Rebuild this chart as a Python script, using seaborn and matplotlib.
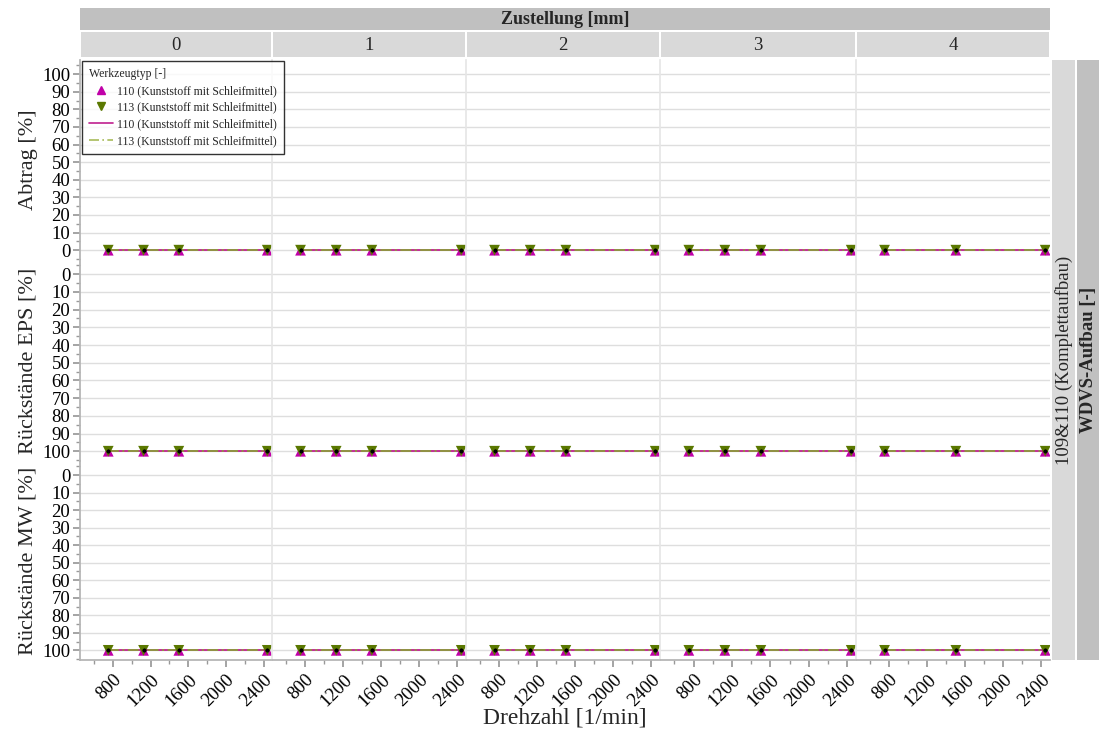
import pandas as pd
import matplotlib.pyplot as plt
import seaborn as sns
from matplotlib.patches import Rectangle
from matplotlib.lines import Line2D
from matplotlib.ticker import MultipleLocator

# Daten
zustellung = [0, 1, 2, 3, 4]
drehzahl = {
    0: [750, 1125, 1500, 2440],
    1: [750, 1125, 1500, 2440],
    2: [750, 1125, 1500, 2440],
    3: [750, 1125, 1500, 2440],
    4: [750, 1500, 2440],
}
werkzeug = ["110 (Kunststoff mit Schleifmittel)", "113 (Kunststoff mit Schleifmittel)"]
abtrag = {w: {z: [0] * len(drehzahl[z]) for z in zustellung} for w in werkzeug}
rueck_eps = {w: {z: [100] * len(drehzahl[z]) for z in zustellung} for w in werkzeug}
rueck_mw = {w: {z: [100] * len(drehzahl[z]) for z in zustellung} for w in werkzeug}

metriken = ["Abtrag [%]", "Rückstände EPS [%]", "Rückstände MW [%]"]
y_ticks = list(range(0, 101, 10))
x_ticks = [800, 1200, 1600, 2000, 2400]

rows = []
for w in werkzeug:
    for z in zustellung:
        for i, d in enumerate(drehzahl[z]):
            rows.append({"Werkzeugtyp": w, "Zustellung": z, "Drehzahl": d,
                         metriken[0]: abtrag[w][z][i],
                         metriken[1]: rueck_eps[w][z][i],
                         metriken[2]: rueck_mw[w][z][i]})
df = pd.DataFrame(rows)

sns.set_theme(style="white")
plt.rcParams["font.family"] = ["Liberation Serif", "DejaVu Serif"]

punkt_farben = {werkzeug[0]: "#c000a8", werkzeug[1]: "#5a7800"}
linien_farben = {werkzeug[0]: "#c0208f", werkzeug[1]: "#8c9c3c"}
marker = {werkzeug[0]: "^", werkzeug[1]: "v"}
striche = {werkzeug[0]: "", werkzeug[1]: (6, 2, 1, 2)}

W, H = 1099, 733
fig = plt.figure(figsize=(W / 100, H / 100), dpi=100)

def px(x0, y0, x1, y1):
    return [x0 / W, 1 - y1 / H, (x1 - x0) / W, (y1 - y0) / H]

spalten = [(80, 272), (272, 466), (466, 660), (660, 856), (856, 1050)]
zeilen = [(60, 259), (260, 461), (461, 660)]

for r, (y0, y1) in enumerate(zeilen):
    for c, (x0, x1) in enumerate(spalten):
        ax = fig.add_axes(px(x0, y0, x1, y1))
        ax.patch.set_alpha(0)
        sub = df[df["Zustellung"] == zustellung[c]]
        sns.lineplot(data=sub, x="Drehzahl", y=metriken[r], hue="Werkzeugtyp",
                     style="Werkzeugtyp", palette=linien_farben, dashes=striche,
                     linewidth=1.3, legend=False, ax=ax, zorder=2)
        sns.scatterplot(data=sub, x="Drehzahl", y=metriken[r], hue="Werkzeugtyp",
                        style="Werkzeugtyp", palette=punkt_farben, markers=marker,
                        s=60, linewidth=0, legend=False, ax=ax, zorder=3)
        ax.scatter(sub["Drehzahl"], sub[metriken[r]], s=3, color="black", zorder=4)

        ax.set_xlim(450, 2490)
        if r == 0:
            ax.set_ylim(-5, 108)
        else:
            ax.set_ylim(105.5, -8)
        ax.set_yticks(y_ticks)
        ax.yaxis.set_minor_locator(MultipleLocator(5))
        ax.set_xticks(x_ticks)
        ax.xaxis.set_minor_locator(MultipleLocator(200))
        ax.grid(axis="y", which="major", color="#dedede", linewidth=1)
        ax.spines["top"].set_visible(False)
        ax.spines["right"].set_visible(False)
        ax.spines["bottom"].set_visible(r == 2)
        ax.spines["bottom"].set_color("#b4b4b4")
        ax.spines["left"].set_color("#b4b4b4" if c == 0 else "#e6e6e6")
        ax.tick_params(which="both", colors="#999999", labelcolor="black", labelsize=13.5)
        ax.tick_params(which="major", length=5)
        ax.tick_params(which="minor", length=3)
        ax.tick_params(axis="y", which="both", left=(c == 0), labelleft=(c == 0), pad=2)
        ax.tick_params(axis="x", which="both", bottom=(r == 2), labelbottom=(r == 2), pad=3)
        if r == 2:
            for lab in ax.get_xticklabels():
                lab.set_rotation(45)
                lab.set_ha("right")
                lab.set_rotation_mode("anchor")
        ax.set_xlabel("")
        if c == 0:
            ax.set_ylabel(metriken[r], fontsize=16, labelpad=3)
        else:
            ax.set_ylabel("")

# Streifen oben
fig.patches.append(Rectangle((80 / W, 1 - 30 / H), 970 / W, 22 / H, transform=fig.transFigure,
                             facecolor="#c0c0c0", edgecolor="none"))
fig.text(565 / W, 1 - 19 / H, "Zustellung [mm]", ha="center", va="center",
         fontsize=13, fontweight="bold")
for c, (x0, x1) in enumerate(spalten):
    fig.patches.append(Rectangle(((x0 + 1) / W, 1 - 57 / H), (x1 - x0 - 2) / W, 25 / H,
                                 transform=fig.transFigure, facecolor="#d9d9d9",
                                 edgecolor="none"))
    fig.text((x0 + x1) / 2 / W, 1 - 45 / H, str(zustellung[c]), ha="center",
             va="center", fontsize=13.5)

# Streifen rechts
fig.patches.append(Rectangle((1052 / W, 1 - 660 / H), 23 / W, 600 / H, transform=fig.transFigure,
                             facecolor="#d9d9d9", edgecolor="none"))
fig.text(1064 / W, 1 - 360 / H, "109&110 (Komplettaufbau)", ha="center", va="center",
         rotation=90, fontsize=13.5)
fig.patches.append(Rectangle((1077 / W, 1 - 660 / H), 22 / W, 600 / H, transform=fig.transFigure,
                             facecolor="#c0c0c0", edgecolor="none"))
fig.text(1088 / W, 1 - 360 / H, "WDVS-Aufbau [-]", ha="center", va="center",
         rotation=90, fontsize=13.5, fontweight="bold")

fig.text(565 / W, 1 - 718 / H, "Drehzahl [1/min]", ha="center", va="center", fontsize=17)

# Legende
handles = [
    Line2D([], [], linestyle="none", marker="^", color=punkt_farben[werkzeug[0]], markersize=6),
    Line2D([], [], linestyle="none", marker="v", color=punkt_farben[werkzeug[1]], markersize=6),
    Line2D([], [], color=linien_farben[werkzeug[0]], linewidth=1.2),
    Line2D([], [], color="#a8bb5a", linewidth=1.2, dashes=(6, 2, 1, 2)),
]
leg = fig.legend(handles, werkzeug + werkzeug, title="Werkzeugtyp [-]", loc="upper left",
                 bbox_to_anchor=(82 / W, 1 - 61 / H), borderaxespad=0, fontsize=8.5,
                 title_fontsize=8.5, frameon=True, fancybox=False, edgecolor="black",
                 handlelength=2, handletextpad=0.4, labelspacing=0.4, borderpad=0.6,
                 alignment="left")
leg.get_frame().set_linewidth(1)

plt.savefig("out.png", dpi=100)
plt.close()
